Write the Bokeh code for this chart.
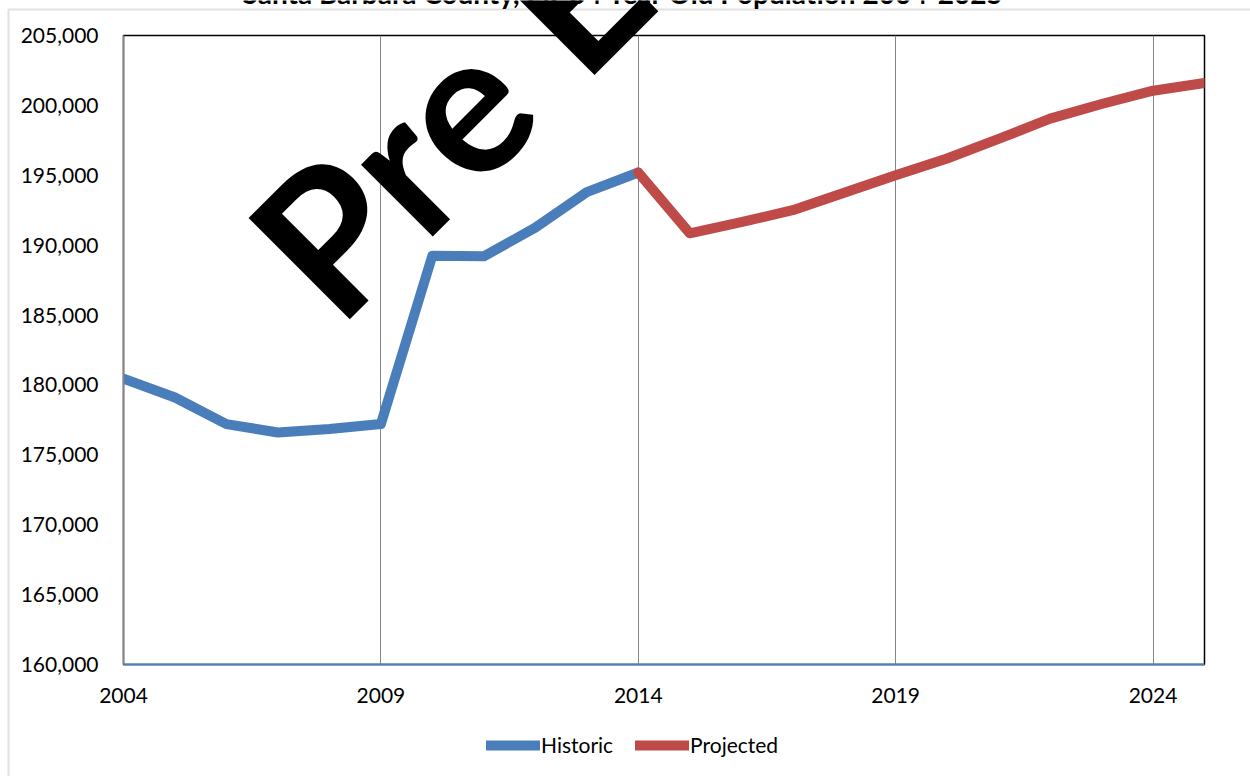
from bokeh.plotting import figure
from bokeh.models import (Range1d, FixedTicker, NumeralTickFormatter, Label,
                          Legend, LegendItem, BoxAnnotation)
from bokeh.embed import file_html
from bokeh.resources import INLINE

# ---------------- data ----------------
years_hist = [2004, 2005, 2006, 2007, 2008, 2009, 2010, 2011, 2012, 2013, 2014]
historic = [180450, 179100, 177200, 176600, 176850, 177200,
            189250, 189200, 191250, 193800, 195200]
years_proj = [2014, 2015, 2016, 2017, 2018, 2019, 2020, 2021, 2022, 2023, 2024, 2025]
projected = [195200, 190850, 191650, 192500, 193750, 195000,
             196200, 197600, 199050, 200100, 201050, 201600]
x_ticks = [2004, 2009, 2014, 2019, 2024]
y_ticks = [160000, 165000, 170000, 175000, 180000, 185000,
           190000, 195000, 200000, 205000]
series_names = ["Historic", "Projected"]
series_colors = ["#4A7EBB", "#BE4B48"]
title_text = "Santa Barbara County, 25-64 Year Old Population 2004-2025"
watermark_text = "Pre E"

# ---------------- layout ----------------
W, H = 1250, 776
FL, FR, FT, FB = 123, 1204, 35, 664
X0, X1 = 2004, 2025
Y0, Y1 = 160000, 205000
LW = 10
POS = {"position": "absolute", "left": "0px", "top": "0px"}

# main chart
p = figure(width=W, height=H, output_backend="svg", toolbar_location=None,
           x_range=Range1d(X0, X1), y_range=Range1d(Y0, Y1),
           min_border_left=FL, min_border_right=W - FR,
           min_border_top=FT, min_border_bottom=H - FB)
p.styles = dict(POS)
p.background_fill_color = "white"
p.border_fill_color = "white"
p.outline_line_color = "black"
p.outline_line_width = 1.5

p.xaxis.ticker = FixedTicker(ticks=x_ticks)
p.yaxis.ticker = FixedTicker(ticks=y_ticks)
p.yaxis.formatter = NumeralTickFormatter(format="0,0")
for ax in (p.xaxis, p.yaxis):
    ax.major_tick_line_color = None
    ax.minor_tick_line_color = None
    ax.major_label_text_font = "Lato"
    ax.major_label_text_font_size = "21px"
    ax.major_label_text_color = "black"
p.xaxis.axis_line_color = "#4F81BD"
p.xaxis.axis_line_width = 2
p.xaxis.major_label_standoff = 17
p.yaxis.axis_line_color = "#868686"
p.yaxis.axis_line_width = 1.5
p.yaxis.major_label_standoff = 19

p.xgrid.ticker = FixedTicker(ticks=x_ticks)
p.xgrid.grid_line_color = "#868686"
p.xgrid.grid_line_width = 1
p.ygrid.grid_line_color = None

p.line(years_hist, historic, line_color=series_colors[0], line_width=LW,
       line_cap="round", line_join="round")
p.line(years_proj, projected, line_color=series_colors[1], line_width=LW,
       line_cap="round", line_join="round")

# transparent overlay in page pixels: border, title, watermark, legend
ov = figure(width=W, height=H, output_backend="svg", toolbar_location=None,
            x_range=Range1d(0, W), y_range=Range1d(H, 0),
            x_axis_location=None, y_axis_location=None, min_border=0)
ov.styles = dict(POS)
ov.outline_line_color = None
ov.background_fill_color = None
ov.border_fill_color = None
ov.grid.visible = False

ov.add_layout(BoxAnnotation(left=8, right=W + 50, top=9, bottom=H + 50,
                            fill_color=None, fill_alpha=0,
                            line_color="#9a9a9a", line_width=2))

ov.add_layout(Label(x=623, y=-8, text=title_text, text_align="center",
                    text_baseline="alphabetic", text_font="Lato",
                    text_font_style="bold", text_font_size="28px",
                    text_color="black"))

ov.add_layout(Label(x=284, y=276, text=watermark_text, angle=0.785,
                    angle_units="rad", text_align="left",
                    text_baseline="alphabetic", text_font="Lato",
                    text_font_style="bold", text_font_size="198px",
                    text_color="black"))

# legend proxies (off-canvas) carrying the series styles
proxy_x, proxy_y = [-100, -90], [-100, -100]
lg_h = ov.line(x=proxy_x, y=proxy_y, line_color=series_colors[0],
               line_width=LW, line_cap="round")
lg_p = ov.line(x=proxy_x, y=proxy_y, line_color=series_colors[1],
               line_width=LW, line_cap="round")
legend = Legend(items=[LegendItem(label=series_names[0], renderers=[lg_h]),
                       LegendItem(label=series_names[1], renderers=[lg_p])],
                orientation="horizontal", location=(486, 19),
                border_line_color=None, background_fill_alpha=0,
                padding=0, margin=0, spacing=22, glyph_width=54,
                glyph_height=24, label_standoff=1, label_height=24,
                label_text_font="Lato", label_text_font_size="21px",
                label_text_color="black")
ov.add_layout(legend)

open("out.html", "w").write(file_html([p, ov], INLINE))
